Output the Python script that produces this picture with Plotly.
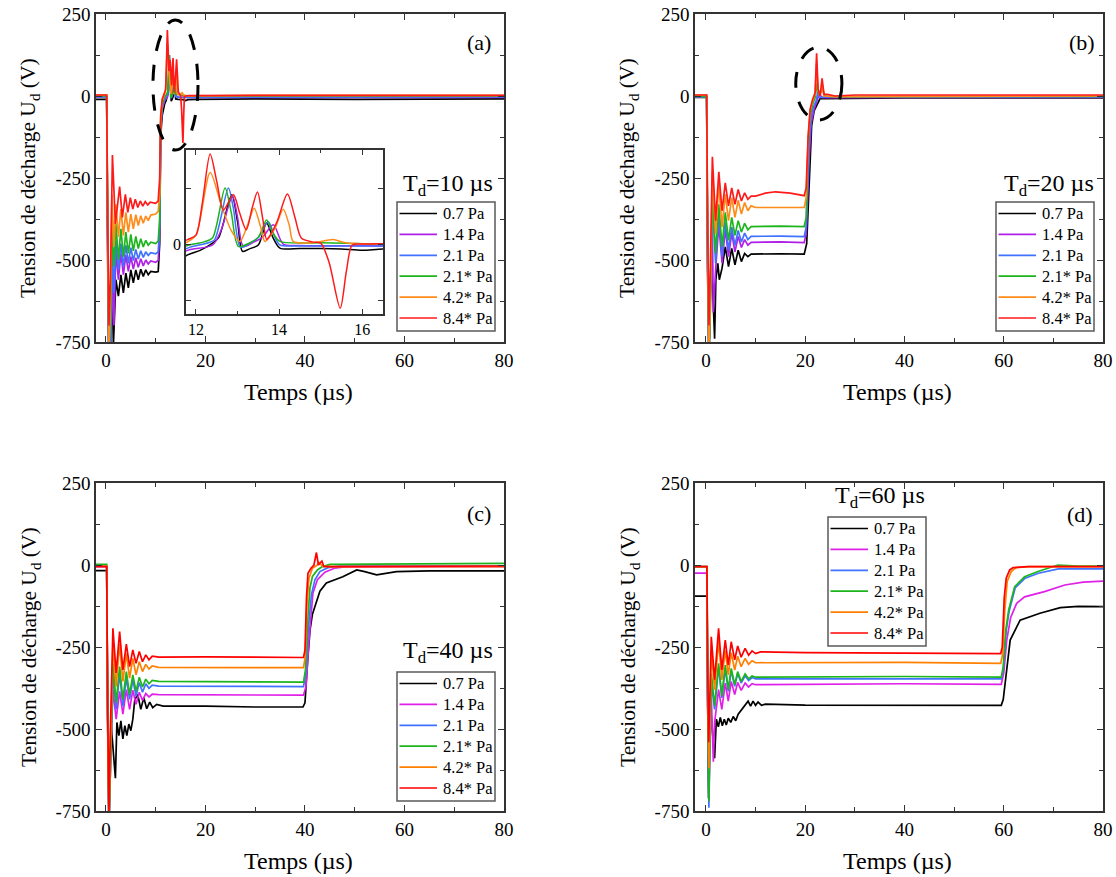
import plotly.graph_objects as go

# ---------------- data ----------------
SERIES_NAMES = ["0.7 Pa", "1.4 Pa", "2.1 Pa", "2.1* Pa", "4.2* Pa", "8.4* Pa"]
TD_LABELS = ["10", "20", "40", "60"]
PANEL_LETTERS = ["(a)", "(b)", "(c)", "(d)"]

X_TICKS = [0, 20, 40, 60, 80]
X_TICK_LABELS = ["0", "20", "40", "60", "80"]
X_MINOR = [10, 30, 50, 70]
Y_TICKS = [250, 0, -250, -500, -750]
Y_TICK_LABELS = ["250", "0", "-250", "-500", "-750"]
Y_MINOR = [125, -125, -375, -625]
INSET_X_TICKS = [12, 14, 16]
INSET_X_TICK_LABELS = ["12", "14", "16"]
INSET_X_MINOR = [13, 15]
INSET_Y_TICKS = [0]
INSET_Y_TICK_LABELS = ["0"]
INSET_Y_MINOR = [125, -125]

# Panel (a)  Td = 10 us   (time us, voltage V)
A_07 = [(-2.5, -10), (0.15, -10), (0.35, -500), (0.55, -800), (0.9, -800), (1.2, -580), (1.5, -760), (2.0, -560),
        (2.5, -610), (3.0, -545), (3.5, -600), (4.0, -540), (4.5, -585), (5.0, -530), (5.5, -570), (6.0, -530),
        (6.5, -560), (7.0, -528), (7.5, -550), (8.0, -530), (8.5, -545), (9.0, -535), (10.0, -537), (10.5, -535),
        (10.8, -450), (11.0, -120), (11.3, -60), (11.8, -24), (12.1, -14), (12.4, 2), (12.55, 15), (12.86, 110),
        (13.0, 50), (13.12, -16), (13.3, -10), (13.5, -2), (13.7, 47), (13.85, 15), (14.02, -9), (14.5, -10),
        (15.0, -10), (15.5, -11), (16.0, -14), (16.5, -11), (18, -10), (30, -9), (50, -10), (80, -9)]
A_14 = [(-2.5, -3), (0.15, -3), (0.35, -450), (0.6, -800), (1.0, -800), (1.3, -520), (1.6, -700), (2.0, -470),
        (2.5, -560), (3.0, -480), (3.5, -545), (4.0, -485), (4.5, -535), (5.0, -490), (5.5, -528), (6.0, -493),
        (6.5, -522), (7.0, -496), (7.5, -518), (8.0, -500), (8.5, -512), (9.0, -503), (10.0, -507), (10.5, -500),
        (10.8, -420), (11.0, -100), (11.3, -40), (11.8, -14), (12.4, -2), (12.6, 30), (12.88, 106), (13.0, 60),
        (13.14, -5), (13.4, 5), (13.6, 15), (13.86, 43), (14.1, 0), (14.5, -3), (16.5, -4), (30, -4), (80, -4)]
A_21 = [(-2.5, -3), (0.15, -3), (0.35, -420), (0.6, -790), (1.0, -760), (1.3, -470), (1.6, -600), (2.0, -440),
        (2.5, -530), (3.0, -450), (3.5, -520), (4.0, -455), (4.5, -510), (5.0, -462), (5.5, -502), (6.0, -468),
        (6.5, -497), (7.0, -472), (7.5, -492), (8.0, -475), (8.5, -486), (9.0, -478), (10.0, -481), (10.5, -475),
        (10.8, -400), (11.0, -90), (11.3, -35), (11.8, -9), (12.3, 3), (12.45, 10), (12.78, 125), (12.9, 80),
        (13.07, -7), (13.3, 2), (13.5, 15), (13.74, 50), (13.9, 15), (14.02, -2), (14.5, -4), (16.5, -4),
        (30, -3), (80, -3)]
A_21S = [(-2.5, 0), (0.15, 0), (0.35, -400), (0.6, -780), (0.9, -700), (1.2, -400), (1.6, -520), (2.0, -390),
         (2.5, -500), (3.0, -405), (3.5, -490), (4.0, -415), (4.5, -480), (5.0, -422), (5.5, -472), (6.0, -428),
         (6.5, -465), (7.0, -435), (7.5, -460), (8.0, -440), (8.5, -455), (9.0, -446), (10.0, -450), (10.5, -442),
         (10.8, -380), (11.0, -80), (11.3, -25), (11.8, -3), (12.2, 5), (12.4, 14), (12.7, 125), (12.85, 70),
         (13.02, -5), (13.3, 3), (13.5, 15), (13.7, 54), (13.85, 25), (14.02, 6), (15.0, 3), (15.6, 2),
         (16.5, 0), (30, 0), (80, 0)]
A_42S = [(-2.5, 3), (0.15, 3), (0.35, -420), (0.6, -790), (0.9, -620), (1.2, -300), (1.6, -460), (2.0, -330),
         (2.5, -430), (3.0, -345), (3.5, -425), (4.0, -355), (4.5, -415), (5.0, -360), (5.5, -405), (6.0, -362),
         (6.5, -395), (7.0, -365), (7.5, -388), (8.0, -366), (8.5, -380), (9.0, -363), (10.0, -360), (10.5, -352),
         (10.8, -300), (11.0, -70), (11.3, -15), (11.8, 5), (12.0, 20), (12.34, 160), (12.6, 90), (12.85, 30),
         (13.06, 6), (13.25, 45), (13.4, 80), (13.55, 40), (13.66, 6), (13.9, 35), (14.1, 78), (14.25, 40),
         (14.34, 6), (14.8, 3), (15.3, 10), (15.6, 3), (16.5, 0), (30, 2), (80, 2)]
A_84S = [(-2.5, 3), (0.15, 3), (0.35, -380), (0.6, -700), (0.9, -560), (1.3, -180), (1.9, -390), (2.75, -276),
         (3.3, -370), (3.9, -300), (4.4, -355), (4.9, -310), (5.4, -345), (5.9, -315), (6.4, -340), (6.9, -320),
         (7.4, -336), (7.9, -322), (8.4, -332), (8.9, -324), (10.0, -327), (10.5, -320), (10.8, -250), (11.0, -60),
         (11.3, -10), (11.8, 10), (12.0, 20), (12.15, 90), (12.34, 201), (12.5, 140), (12.66, 76), (12.9, 110),
         (13.05, 70), (13.21, 32), (13.35, 80), (13.48, 116), (13.6, 60), (13.7, 10), (13.75, 15), (13.95, 50),
         (14.2, 112), (14.38, 60), (14.54, 13), (14.8, 5), (15.0, 2), (15.2, -40), (15.47, -143), (15.62, -60),
         (15.76, -2), (16.0, 0), (16.5, 1), (30, 2), (80, 2)]

# Panel (b)  Td = 20 us
B_07 = [(-2.5, -4), (0.15, -4), (0.35, -550), (0.6, -800), (1.0, -520), (1.4, -600), (1.75, -740), (2.0, -560),
        (2.4, -510), (2.7, -560), (3.25, -525), (3.9, -460), (4.55, -520), (5.2, -465), (5.85, -515), (6.5, -470),
        (7.15, -505), (7.8, -480), (8.45, -490), (9.1, -482), (15, -481), (19.8, -482), (20.3, -450), (20.8, -250),
        (21.3, -90), (21.8, -45), (22.5, -20), (23, -8), (24, -8), (40, -6), (80, -6)]
B_14 = [(-2.5, -3), (0.15, -3), (0.35, -520), (0.6, -800), (1.0, -520), (1.3, -400), (1.5, -660), (1.95, -530),
        (2.6, -390), (3.25, -510), (3.9, -405), (4.55, -490), (5.2, -418), (5.85, -475), (6.5, -428), (7.15, -462),
        (7.8, -438), (8.45, -455), (9.1, -446), (15, -445), (19.8, -447), (20.2, -420), (20.8, -190), (21.2, -85),
        (21.8, -40), (22.4, -15), (22.8, 5), (23.5, -5), (40, -4), (80, -4)]
B_21 = [(-2.5, -3), (0.15, -3), (0.35, -500), (0.6, -800), (1.0, -560), (1.3, -320), (1.95, -510), (2.6, -360),
        (3.25, -490), (3.9, -385), (4.55, -470), (5.2, -400), (5.85, -455), (6.5, -410), (7.15, -445), (7.8, -418),
        (8.45, -438), (9.1, -428), (15, -427), (19.8, -429), (20.2, -400), (20.7, -170), (21.1, -75), (21.6, -35),
        (22.2, -15), (22.6, 15), (23, -5), (24, -3), (80, -3)]
B_21S = [(-2.5, -1), (0.15, -1), (0.35, -500), (0.6, -800), (0.9, -650), (1.3, -300), (1.95, -480), (2.6, -330),
         (3.25, -460), (3.9, -355), (4.55, -440), (5.2, -370), (5.85, -425), (6.5, -380), (7.15, -415), (7.8, -388),
         (8.45, -408), (9.1, -398), (15, -397), (19.8, -398), (20.2, -370), (20.6, -150), (21, -60), (21.5, -25),
         (22, -5), (22.4, 40), (22.8, 5), (23.5, 20), (24, 0), (26, -2), (80, -1)]
B_42S = [(-2.5, 3), (0.15, 3), (0.35, -450), (0.6, -790), (0.9, -600), (1.3, -230), (1.95, -420), (2.6, -270),
         (3.25, -400), (3.9, -300), (4.55, -380), (5.2, -310), (5.85, -370), (6.5, -318), (7.15, -360), (7.8, -325),
         (8.45, -350), (9.1, -335), (10, -340), (19.8, -340), (20.2, -310), (20.6, -130), (21.0, -45), (21.5, -15),
         (22.0, 5), (22.3, 100), (22.6, 15), (23.0, 0), (23.4, 30), (23.8, 0), (26, -2), (80, 0)]
B_84S = [(-2.5, 3), (0.15, 3), (0.35, -400), (0.6, -700), (0.9, -520), (1.3, -185), (1.95, -380), (2.6, -231),
         (3.25, -350), (3.9, -265), (4.55, -335), (5.2, -280), (5.85, -330), (6.5, -285), (7.15, -320), (7.8, -295),
         (8.45, -315), (9.1, -305), (10, -305), (12, -296), (14, -292), (17, -296), (19.8, -304), (20.2, -280),
         (20.6, -120), (21.0, -40), (21.5, -10), (22.0, 10), (22.3, 130), (22.6, 20), (23.0, 0), (23.4, 54),
         (23.8, 5), (24.5, 5), (26, 0), (30, 3), (80, 3)]

# Panel (c)  Td = 40 us
C_07 = [(-2.5, -17), (0.15, -17), (0.35, -450), (0.6, -800), (1.0, -478), (1.5, -560), (1.9, -650), (2.2, -480),
        (2.6, -520), (3.0, -475), (3.4, -530), (3.8, -490), (4.2, -520), (4.6, -485), (5.0, -505), (5.4, -470),
        (5.8, -410), (6.4, -395), (7.0, -440), (7.6, -405), (8.2, -438), (8.8, -418), (9.4, -435), (10.2, -425),
        (11.5, -430), (20, -430), (30, -433), (39.6, -433), (40.0, -420), (40.5, -300), (41.0, -200), (41.5, -150),
        (42.3, -116), (43.0, -80), (44.3, -55), (47.6, -36), (50.4, -15), (52, -20), (54.4, -30), (58.4, -20),
        (65, -18), (80, -18)]
C_14 = [(-2.5, -5), (0.15, -5), (0.35, -480), (0.6, -800), (1.0, -560), (1.4, -380), (2.05, -470), (2.75, -385),
        (3.4, -455), (4.1, -380), (4.75, -440), (5.4, -382), (6.05, -425), (6.7, -388), (7.35, -413), (8.0, -392),
        (8.65, -402), (9.3, -394), (10.6, -395), (39.7, -397), (40.2, -370), (40.8, -230), (41.6, -85), (42.5, -45),
        (44, -22), (45.9, -10), (48, -6), (80, -5)]
C_21 = [(-2.5, -3), (0.15, -3), (0.35, -480), (0.6, -800), (1.0, -560), (1.4, -330), (2.05, -440), (2.75, -330),
        (3.4, -430), (4.1, -345), (4.75, -410), (5.4, -350), (6.05, -400), (6.7, -358), (7.35, -388), (8.0, -362),
        (8.65, -376), (9.3, -366), (10.6, -369), (39.7, -371), (40.2, -330), (40.7, -190), (41.3, -90), (42, -45),
        (43, -20), (44.6, -8), (47, -3), (80, -3)]
C_21S = [(-2.5, 2), (0.15, 2), (0.35, -500), (0.6, -800), (1.0, -560), (1.4, -300), (2.05, -420), (2.75, -310),
         (3.4, -410), (4.1, -325), (4.75, -395), (5.4, -335), (6.05, -385), (6.7, -342), (7.35, -372), (8.0, -348),
         (8.65, -362), (9.3, -352), (10.6, -355), (39.7, -357), (40.1, -320), (40.5, -180), (41.0, -70), (41.5, -35),
         (42.5, -15), (43.5, -5), (45, 2), (80, 5)]
C_42S = [(-2.5, -3), (0.15, -3), (0.35, -480), (0.6, -790), (0.9, -560), (1.4, -240), (2.05, -370), (2.75, -240),
         (3.4, -355), (4.1, -270), (4.75, -345), (5.4, -285), (6.05, -335), (6.7, -295), (7.35, -325), (8.0, -303),
         (8.65, -317), (9.3, -308), (10.6, -312), (39.7, -313), (40.05, -280), (40.4, -120), (40.8, -40), (41.5, -10),
         (42.5, 0), (42.8, 8), (43.5, -3), (45, -5), (80, -5)]
C_84S = [(-2.5, -5), (0.15, -5), (0.35, -450), (0.6, -750), (0.9, -500), (1.4, -193), (2.05, -329), (2.75, -203),
         (3.4, -320), (4.1, -241), (4.75, -310), (5.4, -259), (6.05, -300), (6.7, -264), (7.35, -295), (8.0, -274),
         (8.65, -289), (9.3, -278), (10.6, -281), (20, -280), (39.7, -282), (40.0, -260), (40.3, -100), (40.6, -25),
         (41.2, -10), (41.8, 0), (42.3, 38), (42.7, 0), (43.4, 12), (43.8, -5), (45, -5), (80, -3)]

# Panel (d)  Td = 60 us
D_07 = [(-2.5, -95), (0.2, -95), (0.35, -400), (0.53, -711), (0.8, -412), (1.2, -500), (1.75, -589), (2.1, -470),
        (2.5, -493), (2.9, -465), (3.3, -490), (3.7, -470), (4.1, -488), (4.5, -467), (5.0, -480), (5.5, -462),
        (6.0, -475), (6.5, -455), (7.2, -440), (8.0, -425), (8.5, -415), (9.0, -430), (9.5, -415), (10, -428),
        (10.5, -418), (11.2, -428), (12, -424), (20, -427), (40, -428), (59.5, -428), (59.9, -410), (60.5, -330),
        (61.3, -229), (63.3, -168), (67.3, -147), (71.4, -130), (75, -126), (80, -127)]
D_14 = [(-2.5, -25), (0.2, -25), (0.35, -420), (0.6, -690), (0.85, -520), (1.1, -410), (1.5, -600), (1.75, -480),
        (2.55, -380), (3.2, -440), (3.9, -360), (4.5, -415), (5.1, -355), (5.8, -395), (6.4, -358), (7.1, -382),
        (7.9, -360), (8.6, -372), (9.3, -362), (10, -365), (40, -362), (59.5, -364), (60.0, -330), (60.6, -230),
        (61.4, -160), (62.6, -117), (64.2, -97), (68.2, -81), (72.3, -61), (76, -52), (80, -49)]
D_21 = [(-2.5, -5), (0.2, -5), (0.35, -410), (0.6, -740), (0.85, -500), (1.1, -360), (1.75, -440), (2.55, -310),
        (3.2, -405), (3.9, -315), (4.5, -385), (5.1, -322), (5.8, -370), (6.4, -330), (7.1, -360), (7.9, -338),
        (8.6, -352), (9.3, -343), (10, -347), (40, -346), (59.5, -347), (59.9, -320), (60.5, -200), (61.1, -140),
        (62.3, -70), (64.3, -40), (67, -25), (71, -12), (80, -12)]
D_21S = [(-2.5, -5), (0.2, -5), (0.35, -400), (0.6, -720), (0.85, -480), (1.1, -330), (1.75, -430), (2.55, -300),
         (3.2, -400), (3.9, -305), (4.5, -380), (5.1, -315), (5.8, -365), (6.4, -325), (7.1, -355), (7.9, -332),
         (8.6, -347), (9.3, -338), (10, -342), (40, -340), (59.5, -342), (59.9, -310), (60.4, -200), (61, -137),
         (62.2, -66), (64.2, -36), (66.9, -20), (70.9, 0), (75, -3), (80, -3)]
D_42S = [(-2.5, -5), (0.2, -5), (0.35, -350), (0.6, -620), (0.85, -430), (1.1, -260), (1.75, -380), (2.55, -230),
         (3.2, -350), (3.9, -260), (4.5, -335), (5.1, -268), (5.8, -320), (6.4, -278), (7.1, -310), (7.9, -285),
         (8.6, -303), (9.3, -292), (10, -298), (40, -297), (59.4, -300), (59.8, -270), (60.2, -140), (60.7, -50),
         (61.5, -20), (62.5, -8), (65, -5), (80, -5)]
D_84S = [(-2.5, -5), (0.2, -5), (0.35, -300), (0.55, -540), (0.8, -400), (1.08, -219), (1.75, -350), (2.55, -193),
         (3.2, -320), (3.9, -229), (4.5, -305), (5.1, -234), (5.8, -289), (6.4, -247), (7.1, -281), (7.9, -254),
         (8.6, -275), (9.3, -262), (10, -270), (11, -265), (20, -267), (40, -268), (59.4, -270), (59.7, -250),
         (60.1, -100), (60.5, -40), (61.2, -15), (61.9, -8), (65, -5), (80, -5)]

PANELS = [
    [A_07, A_14, A_21, A_21S, A_42S, A_84S],
    [B_07, B_14, B_21, B_21S, B_42S, B_84S],
    [C_07, C_14, C_21, C_21S, C_42S, C_84S],
    [D_07, D_14, D_21, D_21S, D_42S, D_84S],
]

# ---------------- styling ----------------
PAGE_OFFSET = 0            # body margin is removed by the post script below
W, H = 1116 - PAGE_OFFSET, 877 - PAGE_OFFSET
FONT = "'Liberation Serif', 'Times New Roman', Times, serif"
COLORS_TOP = ["#000000", "#B020E8", "#3F72FF", "#1DB51D", "#FF8C1A", "#FF1A1A"]
COLORS_BOT = ["#000000", "#E020E8", "#3F72FF", "#1DB51D", "#FF8000", "#FF0000"]
AXIS_COL = "#333333"


def fx(p):
    return (p - PAGE_OFFSET) / W


def fy(p):
    return 1 - (p - PAGE_OFFSET) / H


# plot frames in screen pixels (left, right, top, bottom)
FRAMES = [(96, 504, 14, 342), (695, 1103, 14, 342), (96, 504, 483, 811), (695, 1103, 483, 811)]
X_RANGES = [[-2.0, 80], [-2.2, 80], [-2.0, 80], [-2.2, 80]]
INSET_FRAME = (186, 383, 150, 314)
LEGEND_BOXES = [(397, 202), (996, 202), (397, 672), (828, 517)]   # top-left corners
LEGEND_W, LEGEND_H, LEGEND_STEP, LEGEND_FIRST = 98, 129, 20.9, 11.5

fig = go.Figure()

for p, series in enumerate(PANELS):
    xa = "x" if p == 0 else f"x{p + 1}"
    ya = "y" if p == 0 else f"y{p + 1}"
    cols = COLORS_TOP if p < 2 else COLORS_BOT
    for i, s in enumerate(series):
        fig.add_trace(go.Scatter(
            x=[a for a, b in s], y=[b for a, b in s], mode="lines",
            name=SERIES_NAMES[i], line=dict(color=cols[i], width=1.7),
            xaxis=xa, yaxis=ya, showlegend=False, hoverinfo="skip"))

# inset of panel (a)
for i, s in enumerate(PANELS[0]):
    fig.add_trace(go.Scatter(
        x=[a for a, b in s], y=[b for a, b in s], mode="lines", name=SERIES_NAMES[i],
        line=dict(color=COLORS_TOP[i], width=1.5, shape="spline", smoothing=0.8),
        xaxis="x5", yaxis="y5", showlegend=False, hoverinfo="skip"))


def axis_common(size=19):
    return dict(showline=True, linecolor=AXIS_COL, linewidth=1.6, mirror="ticks",
                ticks="inside", ticklen=6, tickwidth=1.3, tickcolor=AXIS_COL,
                showgrid=False, zeroline=False, ticklabeloverflow="allow",
                tickfont=dict(family=FONT, size=size, color="black"))


layout = dict(width=W, height=H, margin=dict(l=0, r=0, t=0, b=0), autosize=False,
              paper_bgcolor="white", plot_bgcolor="white", template="none",
              font=dict(family=FONT, color="black"), showlegend=False)

for p, (l, r, t, b) in enumerate(FRAMES):
    xk = "xaxis" if p == 0 else f"xaxis{p + 1}"
    yk = "yaxis" if p == 0 else f"yaxis{p + 1}"
    xa = "x" if p == 0 else f"x{p + 1}"
    ya = "y" if p == 0 else f"y{p + 1}"
    xd = axis_common()
    xd.update(domain=[fx(l), fx(r)], anchor=ya, range=X_RANGES[p], tickmode="array",
              tickvals=X_TICKS, ticktext=X_TICK_LABELS,
              minor=dict(tickmode="array", tickvals=X_MINOR, ticks="inside", ticklen=4,
                         tickcolor=AXIS_COL, tickwidth=1.2))
    yd = axis_common()
    yd.update(domain=[fy(b), fy(t)], anchor=xa, range=[-750, 250], tickmode="array",
              tickvals=Y_TICKS, ticktext=Y_TICK_LABELS,
              minor=dict(tickmode="array", tickvals=Y_MINOR, ticks="inside", ticklen=4,
                         tickcolor=AXIS_COL, tickwidth=1.2))
    layout[xk] = xd
    layout[yk] = yd

il, ir, it, ib = INSET_FRAME
x5 = axis_common(16)
x5.update(domain=[fx(il), fx(ir)], anchor="y5", range=[11.76, 16.5], tickmode="array",
          tickvals=INSET_X_TICKS, ticktext=INSET_X_TICK_LABELS, ticklen=5,
          minor=dict(tickmode="array", tickvals=INSET_X_MINOR, ticks="inside", ticklen=3,
                     tickcolor=AXIS_COL))
y5 = axis_common(16)
y5.update(domain=[fy(ib), fy(it)], anchor="x5", range=[-156, 210], tickmode="array",
          tickvals=INSET_Y_TICKS, ticktext=INSET_Y_TICK_LABELS, ticklen=5,
          minor=dict(tickmode="array", tickvals=INSET_Y_MINOR, ticks="inside", ticklen=5,
                     tickcolor=AXIS_COL, tickwidth=1.3))
layout["xaxis5"] = x5
layout["yaxis5"] = y5

fig.update_layout(**layout)

# annotations
ann = []
shapes = []
YT = "Tension de décharge U<sub>d</sub> (V)"
XT = "Temps (µs)"
for (l, r, t, b) in FRAMES:
    ann.append(dict(text=YT, x=fx(l - 66), y=fy((t + b) / 2), xref="paper", yref="paper",
                    textangle=-90, showarrow=False, xanchor="center", yanchor="middle",
                    font=dict(family=FONT, size=21.5, color="black")))
    ann.append(dict(text=XT, x=fx((l + r) / 2 - 2), y=fy(b + 50), xref="paper", yref="paper",
                    showarrow=False, xanchor="center", yanchor="middle",
                    font=dict(family=FONT, size=24, color="black")))
LETTER_POS = [(479, 43), (1082, 43), (479, 513), (1080, 514)]
for p, (lx, ly) in enumerate(LETTER_POS):
    ann.append(dict(text=PANEL_LETTERS[p], x=fx(lx), y=fy(ly), xref="paper", yref="paper",
                    showarrow=False, xanchor="center", yanchor="middle",
                    font=dict(family=FONT, size=22, color="black")))
TD_POS = [(495, 185, "right"), (1096, 185, "right"), (495, 652, "right"), (880, 497, "center")]
for p, (tx, ty, anc) in enumerate(TD_POS):
    ann.append(dict(text=f"T<sub>d</sub>={TD_LABELS[p]} µs", x=fx(tx), y=fy(ty), xref="paper",
                    yref="paper", showarrow=False, xanchor=anc, yanchor="middle",
                    font=dict(family=FONT, size=24, color="black")))

# legends (one boxed legend per panel)
for p, (bx, by) in enumerate(LEGEND_BOXES):
    cols = COLORS_TOP if p < 2 else COLORS_BOT
    shapes.append(dict(type="rect", xref="paper", yref="paper", x0=fx(bx), x1=fx(bx + LEGEND_W),
                       y0=fy(by + LEGEND_H), y1=fy(by), fillcolor="white",
                       line=dict(color="#5a5a5a", width=1.5), layer="above"))
    for i, name in enumerate(SERIES_NAMES):
        yy = by + LEGEND_FIRST + i * LEGEND_STEP
        shapes.append(dict(type="line", xref="paper", yref="paper", x0=fx(bx + 2.5), x1=fx(bx + 40),
                           y0=fy(yy), y1=fy(yy), line=dict(color=cols[i], width=1.7), layer="above"))
        ann.append(dict(text=name, x=fx(bx + 44), y=fy(yy), xref="paper", yref="paper",
                        showarrow=False, xanchor="left", yanchor="middle",
                        font=dict(family=FONT, size=16.5, color="black")))

# dashed ellipses highlighting the spikes
ELLIPSE_A = (9.45, 18.5, -165, 232)
ELLIPSE_B = (18.1, 27.4, -73, 149)
for (x0, x1, y0, y1), xr, yr in [(ELLIPSE_A, "x", "y"), (ELLIPSE_B, "x2", "y2")]:
    shapes.append(dict(type="circle", xref=xr, yref=yr, x0=x0, x1=x1, y0=y0, y1=y1,
                       line=dict(color="black", width=3, dash="16px,14px"), layer="above"))

fig.update_layout(annotations=ann, shapes=shapes)

fig.write_html("out.html", config={"displayModeBar": False},
               post_script="document.body.style.margin='0px';")
